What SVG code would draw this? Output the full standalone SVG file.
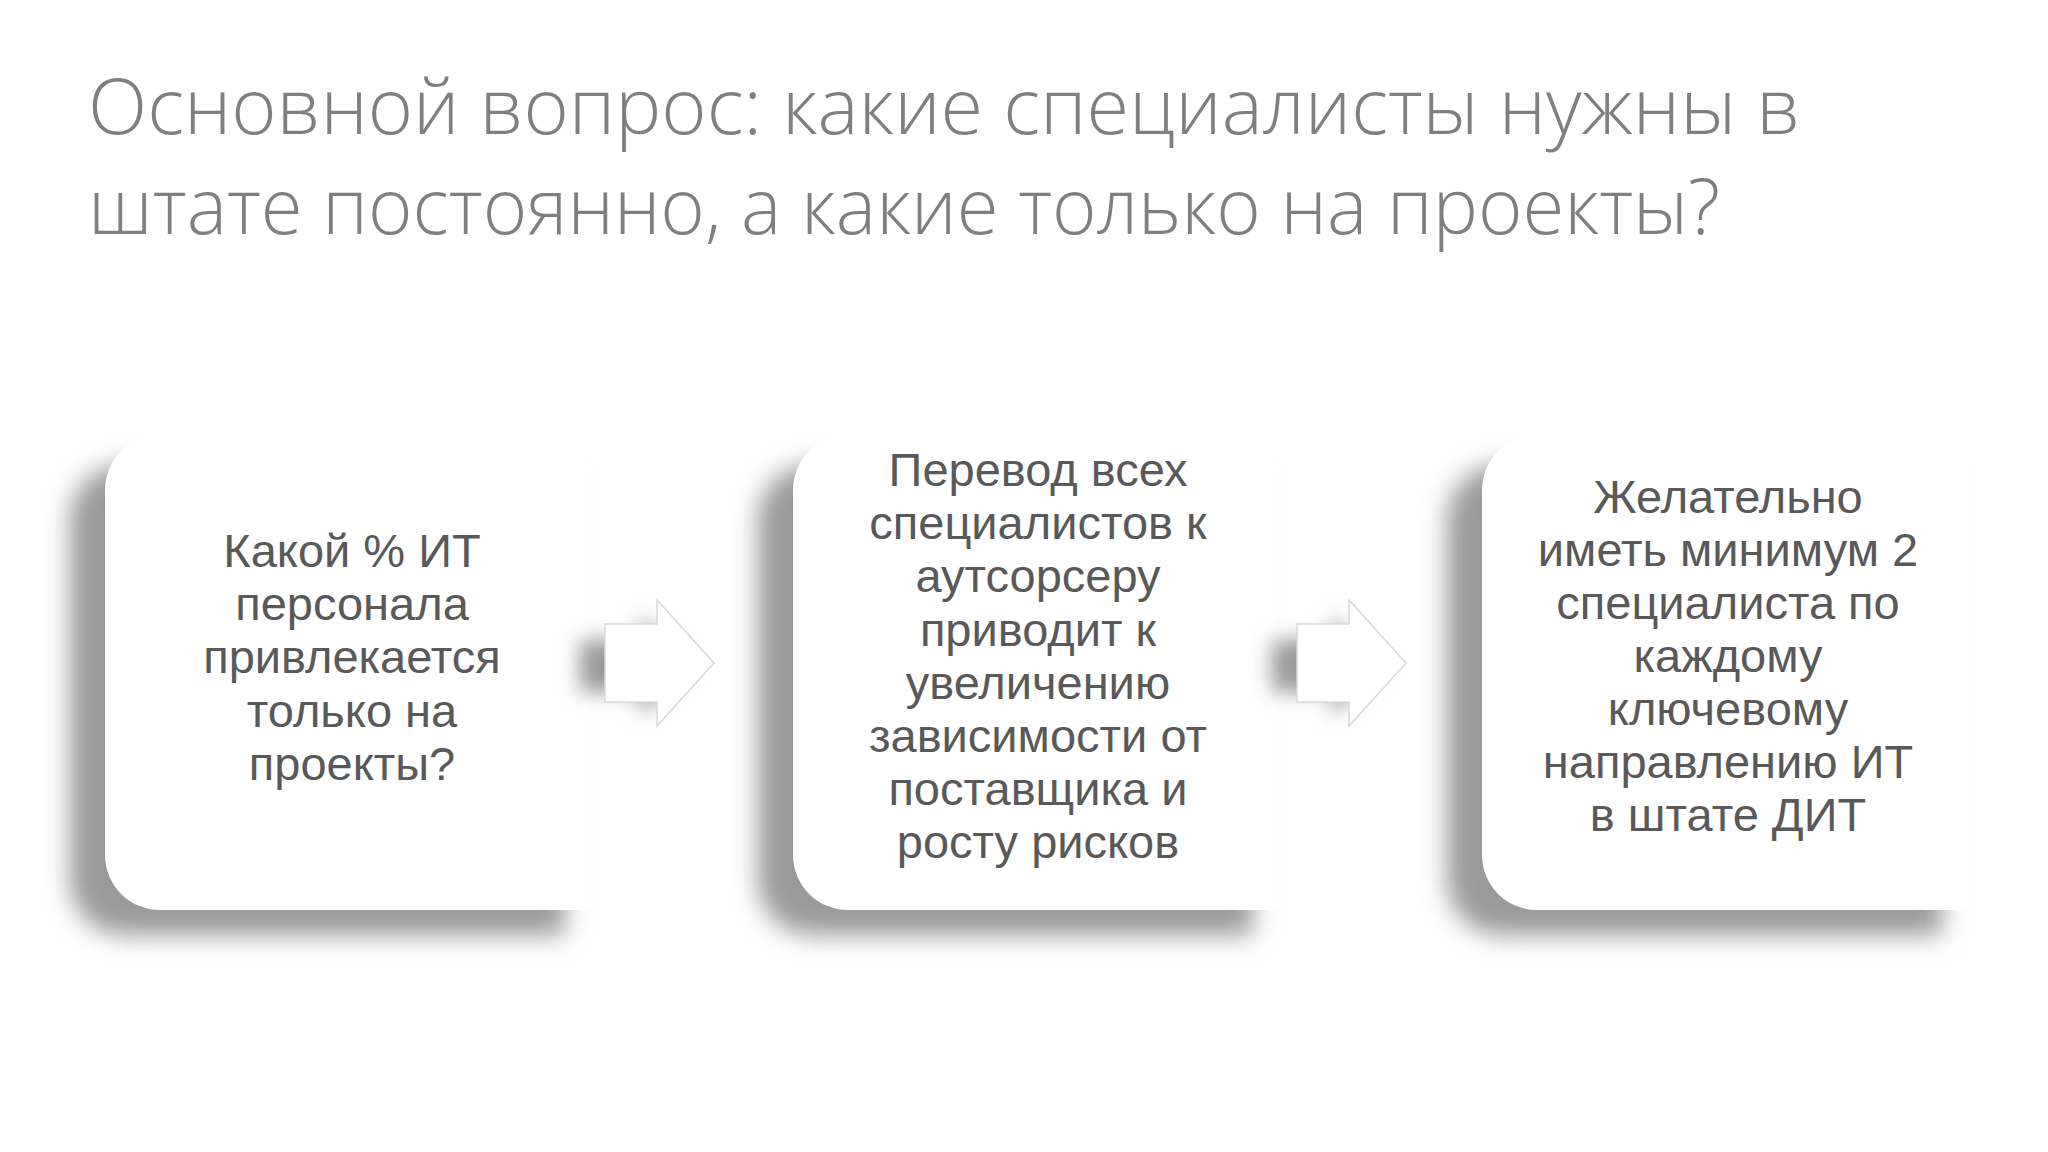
<svg xmlns="http://www.w3.org/2000/svg" width="2048" height="1152" viewBox="0 0 2048 1152">
<defs>
<filter id="sh" x="-20%" y="-20%" width="140%" height="140%"><feGaussianBlur stdDeviation="12"/></filter>
<filter id="sh2" x="-50%" y="-50%" width="200%" height="200%"><feGaussianBlur stdDeviation="10"/></filter>
<style>
.t{font-family:"Liberation Sans",Arial,sans-serif;font-size:47px;fill:#595959;text-anchor:middle}
.h{font-family:"Open Sans","Noto Sans",sans-serif;font-weight:300;font-size:78px;fill:#7f7f7f}
.box{fill:#fff}
.shd{fill:#9a9a9a;filter:url(#sh)}
.arr{fill:#fff;stroke:#d9d9d9;stroke-width:1.5}
.ash{fill:#9a9a9a;filter:url(#sh2)}
</style>
</defs>
<rect width="2048" height="1152" fill="#fff"/>
<g id="title">
<text class="h" x="88" y="134" textLength="1712" lengthAdjust="spacingAndGlyphs">Основной вопрос: какие специалисты нужны в</text>
<text class="h" x="88" y="234" textLength="1632" lengthAdjust="spacingAndGlyphs">штате постоянно, а какие только на проекты?</text>
</g>
<g id="node1">
<path class="shd" d="M125 465 h440 v470 h-440 a55 55 0 0 1 -55 -55 v-360 a55 55 0 0 1 55 -55z"/>
<path class="box" d="M160 435 h430 v475 h-430 a55 55 0 0 1 -55 -55 v-365 a55 55 0 0 1 55 -55z"/>
<text class="t" x="352" y="567">Какой % ИТ</text>
<text class="t" x="352" y="620">персонала</text>
<text class="t" x="352" y="673">привлекается</text>
<text class="t" x="352" y="727">только на</text>
<text class="t" x="352" y="780">проекты?</text>
</g>
<g id="node2">
<path class="shd" d="M813 465 h440 v470 h-440 a55 55 0 0 1 -55 -55 v-360 a55 55 0 0 1 55 -55z"/>
<path class="box" d="M848 435 h430 v475 h-430 a55 55 0 0 1 -55 -55 v-365 a55 55 0 0 1 55 -55z"/>
<text class="t" x="1038" y="486">Перевод всех</text>
<text class="t" x="1038" y="539">специалистов к</text>
<text class="t" x="1038" y="592">аутсорсеру</text>
<text class="t" x="1038" y="646">приводит к</text>
<text class="t" x="1038" y="699">увеличению</text>
<text class="t" x="1038" y="752">зависимости от</text>
<text class="t" x="1038" y="805">поставщика и</text>
<text class="t" x="1038" y="858">росту рисков</text>
</g>
<g id="node3">
<path class="shd" d="M1502 465 h440 v470 h-440 a55 55 0 0 1 -55 -55 v-360 a55 55 0 0 1 55 -55z"/>
<path class="box" d="M1537 435 h430 v475 h-430 a55 55 0 0 1 -55 -55 v-365 a55 55 0 0 1 55 -55z"/>
<text class="t" x="1728" y="513">Желательно</text>
<text class="t" x="1728" y="566">иметь минимум 2</text>
<text class="t" x="1728" y="619">специалиста по</text>
<text class="t" x="1728" y="672">каждому</text>
<text class="t" x="1728" y="725">ключевому</text>
<text class="t" x="1728" y="778">направлению ИТ</text>
<text class="t" x="1728" y="831">в штате ДИТ</text>
</g>
<g id="connectors">
<path class="ash" d="M580 640 h60 v-24 l50 50 l-50 50 v-24 h-60z"/>
<path class="arr" d="M605 624 h52 v-24 l57 63 l-57 63 v-24 h-52z"/>
<path class="ash" d="M1272 640 h60 v-24 l50 50 l-50 50 v-24 h-60z"/>
<path class="arr" d="M1297 624 h52 v-24 l57 63 l-57 63 v-24 h-52z"/>
</g>
</svg>
